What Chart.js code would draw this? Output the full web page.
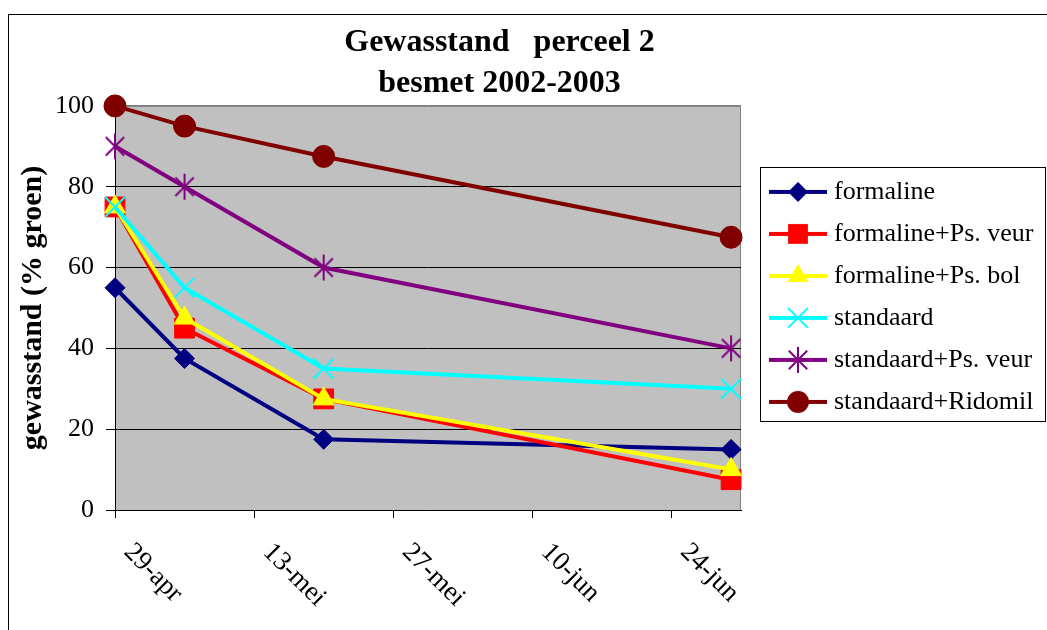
<!DOCTYPE html>
<html>
<head>
<meta charset="utf-8">
<script src="https://cdn.jsdelivr.net/npm/chart.js@4.4.1/dist/chart.umd.min.js"></script>
<style>
  body { margin: 0; background: #fff; }
  canvas { display: block; }
</style>
</head>
<body>
<canvas id="gewasstand" width="1047" height="630"></canvas>
<script>
// waarnemingsdata
const datums = ['2003-04-29', '2003-05-06', '2003-05-20', '2003-06-30'];
const formaline = [55, 37.5, 17.5, 15];
const formalinePsVeur = [75, 45, 27.5, 7.5];
const formalinePsBol = [75, 47.5, 27.5, 10];
const standaard = [75, 55, 35, 30];
const standaardPsVeur = [90, 80, 60, 40];
const standaardRidomil = [100, 95, 87.5, 67.5];

const asStart = '2003-04-29';
const asEinde = '2003-07-01';
const dagStap = 14;
const maanden = ['jan', 'feb', 'mrt', 'apr', 'mei', 'jun', 'jul', 'aug', 'sep', 'okt', 'nov', 'dec'];

const FONT = "'Liberation Serif', 'Times New Roman', serif";
const DAG = 86400000;
const start = Date.parse(asStart);
const dagNr = (d) => (Date.parse(d) - start) / DAG;
const dagLabel = (n) => {
    const d = new Date(start + n * DAG);
    return d.getUTCDate() + '-' + maanden[d.getUTCMonth()];
};

function tekenMarker(g, vorm, x, y, r, kleur) {
    g.fillStyle = kleur;
    g.strokeStyle = kleur;
    g.lineWidth = 2;
    g.beginPath();
    const d = r * Math.SQRT1_2;
    switch (vorm) {
        case 'circle':
            g.arc(x, y, r, 0, Math.PI * 2);
            g.fill();
            break;
        case 'rectRot':
            g.moveTo(x, y - r); g.lineTo(x + r, y); g.lineTo(x, y + r); g.lineTo(x - r, y);
            g.closePath(); g.fill();
            break;
        case 'rect':
            g.rect(x - d, y - d, 2 * d, 2 * d);
            g.fill();
            break;
        case 'triangle':
            g.moveTo(x, y - r);
            g.lineTo(x + r * 0.866, y + r / 2);
            g.lineTo(x - r * 0.866, y + r / 2);
            g.closePath(); g.fill();
            break;
        case 'crossRot':
            g.moveTo(x - d, y - d); g.lineTo(x + d, y + d);
            g.moveTo(x + d, y - d); g.lineTo(x - d, y + d);
            g.stroke();
            break;
        case 'asterisk':
            g.moveTo(x - d, y - d); g.lineTo(x + d, y + d);
            g.moveTo(x + d, y - d); g.lineTo(x - d, y + d);
            g.moveTo(x, y - r); g.lineTo(x, y + r);
            g.stroke();
            break;
    }
}

function sterMarker(kleur, r) {
    const c = document.createElement('canvas');
    c.width = c.height = 2 * r + 4;
    tekenMarker(c.getContext('2d'), 'asterisk', r + 2, r + 2, r, kleur);
    return c;
}

// legendicoon: lijnstuk met marker in het midden
function legendIcoon(s) {
    const c = document.createElement('canvas');
    c.width = 78; c.height = 30;
    const g = c.getContext('2d');
    g.strokeStyle = s.kleur;
    g.lineWidth = 4;
    g.beginPath(); g.moveTo(19, 15); g.lineTo(77, 15); g.stroke();
    tekenMarker(g, s.vorm, 48, 15, s.r, s.kleur);
    return c;
}

const reeksen = [
    { label: 'formaline', data: formaline, kleur: '#000080', vorm: 'rectRot', r: 10 },
    { label: 'formaline+Ps. veur', data: formalinePsVeur, kleur: '#FF0000', vorm: 'rect', r: 14 },
    { label: 'formaline+Ps. bol', data: formalinePsBol, kleur: '#FFFF00', vorm: 'triangle', r: 12 },
    { label: 'standaard', data: standaard, kleur: '#00FFFF', vorm: 'crossRot', r: 14 },
    { label: 'standaard+Ps. veur', data: standaardPsVeur, kleur: '#800080', vorm: 'asterisk', r: 13 },
    { label: 'standaard+Ridomil', data: standaardRidomil, kleur: '#800000', vorm: 'circle', r: 11 }
];
const iconen = reeksen.map(legendIcoon);

const opmaak = {
    id: 'opmaak',
    beforeLayout(chart) {
        const lg = chart.legend;
        if (lg && !lg._vast) {
            const fit = lg.fit;
            lg.fit = function () { fit.call(this); this.width = 306; };
            lg._vast = true;
        }
    },
    afterLayout(chart) {
        const t = chart.titleBlock;
        if (t) { t.left -= 28; t.right -= 28; }
        const lg = chart.legend;
        lg.top = chart.chartArea.top + 57;
        lg.height = lg.bottom - lg.top;
    },
    beforeDraw(chart) {
        const { ctx, chartArea: a } = chart;
        ctx.save();
        ctx.fillStyle = '#fff';
        ctx.fillRect(0, 0, chart.width, chart.height);
        ctx.strokeStyle = '#000';
        ctx.lineWidth = 1;
        ctx.strokeRect(8.5, 14.5, chart.width + 20, chart.height + 20);
        ctx.fillStyle = '#C0C0C0';
        ctx.fillRect(a.left, a.top, a.right - a.left, a.bottom - a.top);
        ctx.strokeStyle = '#808080';
        ctx.strokeRect(a.left + 0.5, a.top + 0.5, a.right - a.left - 1, a.bottom - a.top);
        ctx.restore();
    },
    afterDraw(chart) {
        const { ctx } = chart;
        const lg = chart.legend;
        ctx.save();
        ctx.strokeStyle = '#000';
        ctx.lineWidth = 1;
        ctx.strokeRect(Math.round(lg.left) + 19.5, Math.round(lg.top) + 4.5, lg.width - 21, 254);
        const xs = chart.scales.x;
        ctx.font = '27px ' + FONT;
        ctx.fillStyle = '#000';
        ctx.textAlign = 'left';
        ctx.textBaseline = 'alphabetic';
        xs.ticks.forEach((t) => {
            const px = xs.getPixelForValue(t.value);
            ctx.save();
            ctx.translate(px + 8, xs.top + 43);
            ctx.rotate(Math.PI / 4);
            ctx.fillText(t.label, 0, 0);
            ctx.restore();
        });
        ctx.restore();
    }
};

const ctx = document.getElementById('gewasstand').getContext('2d');
const grafiek = new Chart(ctx, {
    type: 'line',
    data: {
        datasets: reeksen.map((s) => ({
            label: s.label,
            data: s.data.map((v, i) => ({ x: dagNr(datums[i]), y: v })),
            borderColor: s.kleur,
            backgroundColor: s.kleur,
            borderWidth: 4,
            tension: 0,
            clip: false,
            pointStyle: s.vorm === 'asterisk' ? sterMarker(s.kleur, s.r) : s.vorm,
            pointRadius: s.r,
            pointBorderWidth: s.vorm === 'crossRot' ? 2 : 1,
            pointBorderColor: s.kleur,
            pointBackgroundColor: s.kleur
        })).map((ds, i) => Object.assign(ds, { order: reeksen.length - i }))
    },
    options: {
        responsive: false,
        animation: false,
        events: [],
        layout: { padding: { left: 8, top: 14, right: 0, bottom: 0 } },
        plugins: {
            tooltip: { enabled: false },
            title: {
                display: true,
                text: ['Gewasstand   perceel 2', 'besmet 2002-2003'],
                color: '#000',
                font: { family: FONT, size: 32, weight: 'bold', lineHeight: 1.28 },
                padding: { top: 8, bottom: 2 }
            },
            legend: {
                position: 'right',
                align: 'start',
                labels: {
                    usePointStyle: true,
                    pointStyleWidth: 64,
                    padding: 16,
                    color: '#000',
                    font: { family: FONT, size: 26 },
                    generateLabels: (chart) => chart.data.datasets.map((ds, i) => ({
                        text: ds.label,
                        pointStyle: iconen[i],
                        fillStyle: ds.borderColor,
                        strokeStyle: ds.borderColor,
                        lineWidth: 0,
                        hidden: false,
                        datasetIndex: i,
                        fontColor: '#000'
                    }))
                }
            }
        },
        scales: {
            x: {
                type: 'linear',
                min: dagNr(asStart),
                max: dagNr(asEinde),
                afterFit: (s) => { s.height = 120; },
                grid: { drawOnChartArea: false, drawTicks: true, tickLength: 8, tickColor: '#000' },
                border: { color: '#000', width: 1 },
                ticks: {
                    display: false,
                    stepSize: dagStap,
                    includeBounds: false,
                    autoSkip: false,
                    callback: (v) => dagLabel(v)
                }
            },
            y: {
                min: 0,
                max: 100,
                afterFit: (s) => { s.width = 107; },
                title: {
                    display: true,
                    text: 'gewasstand (% groen)',
                    color: '#000',
                    font: { family: FONT, size: 30, weight: 'bold' },
                    padding: { top: 7, bottom: 0 }
                },
                grid: {
                    color: (c) => (c.tick && c.tick.value === 100 ? '#808080' : '#000'),
                    lineWidth: 1,
                    tickLength: 9,
                    tickColor: '#000'
                },
                border: { color: '#000', width: 1 },
                ticks: {
                    stepSize: 20,
                    padding: 12,
                    color: '#000',
                    font: { family: FONT, size: 26 }
                }
            }
        }
    },
    plugins: [opmaak]
});
</script>
</body>
</html>
